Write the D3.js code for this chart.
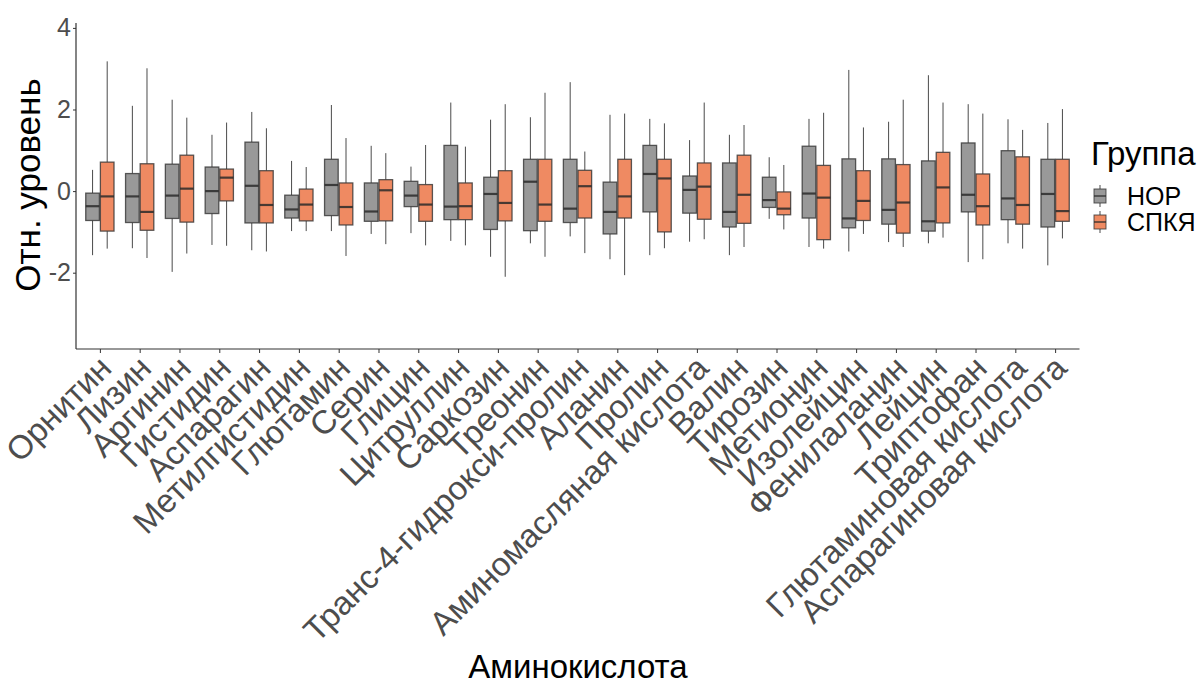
<!DOCTYPE html>
<html>
<head>
<meta charset="utf-8">
<script src="https://cdnjs.cloudflare.com/ajax/libs/d3/7.8.5/d3.min.js"></script>
<style>
  body { margin: 0; background: #fff; }
  svg { font-family: "Liberation Sans", Arial, sans-serif; }
</style>
</head>
<body>
<div id="chart"></div>
<script>
// categories along x
const categories = ['Орнитин', 'Лизин', 'Аргинин', 'Гистидин', 'Аспарагин', 'Метилгистидин',
  'Глютамин', 'Серин', 'Глицин', 'Цитруллин', 'Саркозин', 'Треонин', 'Транс-4-гидрокси-пролин',
  'Аланин', 'Пролин', 'Аминомасляная кислота', 'Валин', 'Тирозин', 'Метионин', 'Изолейцин',
  'Фенилаланин', 'Лейцин', 'Триптофан', 'Глютаминовая кислота', 'Аспарагиновая кислота'];

const groups = ['НОР', 'СПКЯ'];
const groupColors = ['#999999', '#ef8a62'];

// [whisker low, q1, median, q3, whisker high]
const norStats = [
  [-1.57, -0.72, -0.37, -0.05, 0.52],
  [-1.40, -0.77, -0.13, 0.43, 2.09],
  [-1.98, -0.67, -0.11, 0.66, 2.24],
  [-1.32, -0.55, 0.00, 0.59, 1.38],
  [-1.45, -0.78, 0.13, 1.20, 1.94],
  [-0.98, -0.66, -0.45, -0.10, 0.74],
  [-0.98, -0.60, 0.15, 0.78, 2.11],
  [-1.05, -0.74, -0.50, 0.20, 1.11],
  [-1.03, -0.38, -0.11, 0.24, 0.60],
  [-1.22, -0.70, -0.38, 1.12, 2.17],
  [-1.61, -0.94, -0.07, 0.34, 1.75],
  [-1.28, -0.97, 0.23, 0.78, 1.81],
  [-1.11, -0.77, -0.43, 0.78, 2.67],
  [-1.67, -1.05, -0.51, 0.22, 1.87],
  [-1.57, -0.51, 0.42, 1.12, 1.77],
  [-1.24, -0.54, 0.03, 0.37, 1.25],
  [-1.57, -0.88, -0.51, 0.69, 1.38],
  [-0.68, -0.40, -0.22, 0.34, 0.83],
  [-1.37, -0.66, -0.06, 1.10, 1.77],
  [-1.48, -0.90, -0.67, 0.79, 2.97],
  [-1.25, -0.81, -0.46, 0.79, 1.70],
  [-1.28, -0.98, -0.74, 0.74, 2.84],
  [-1.74, -0.51, -0.09, 1.18, 2.13],
  [-1.28, -0.70, -0.18, 0.99, 1.76],
  [-1.82, -0.88, -0.07, 0.78, 1.67]
];

const spkyaStats = [
  [-1.41, -0.98, -0.13, 0.71, 3.18],
  [-1.64, -0.96, -0.51, 0.67, 3.01],
  [-1.53, -0.76, 0.06, 0.88, 1.80],
  [-1.34, -0.24, 0.33, 0.54, 1.68],
  [-1.48, -0.78, -0.34, 0.50, 1.54],
  [-0.98, -0.73, -0.33, 0.05, 0.59],
  [-1.59, -0.83, -0.39, 0.20, 1.30],
  [-1.30, -0.73, 0.02, 0.28, 0.93],
  [-1.33, -0.74, -0.33, 0.16, 1.13],
  [-1.33, -0.70, -0.37, 0.20, 1.09],
  [-2.10, -0.73, -0.29, 0.50, 2.13],
  [-1.61, -0.74, -0.33, 0.78, 2.41],
  [-1.52, -0.66, 0.12, 0.51, 0.97],
  [-2.06, -0.66, -0.13, 0.78, 1.90],
  [-1.40, -1.00, 0.31, 0.78, 1.66],
  [-1.18, -0.69, 0.11, 0.69, 2.17],
  [-1.37, -0.79, -0.09, 0.88, 1.62],
  [-0.94, -0.58, -0.43, -0.02, 0.64],
  [-1.41, -1.19, -0.16, 0.63, 1.92],
  [-1.05, -0.72, -0.24, 0.50, 1.56],
  [-1.37, -1.03, -0.28, 0.65, 2.24],
  [-1.14, -0.78, 0.09, 0.95, 2.17],
  [-1.67, -0.83, -0.37, 0.42, 1.90],
  [-1.41, -0.81, -0.34, 0.84, 1.50],
  [-1.16, -0.74, -0.49, 0.78, 2.01]
];

const yTicks = [-2, 0, 2, 4];

const width = 1204, height = 686;
const margin = { top: 23, right: 125, bottom: 337, left: 76 };

const svg = d3.select('#chart')
  .append('svg')
  .attr('width', width)
  .attr('height', height);

const x = d3.scalePoint()
  .domain(categories)
  .range([margin.left, width - margin.right])
  .padding(0.6);

const y = d3.scaleLinear()
  .domain([-3.87, 4.12])
  .range([height - margin.bottom, margin.top]);

const boxW = x.step() * 0.735;
const dodge = d3.scaleBand().domain(groups).range([-boxW / 2, boxW / 2]);

// build rows for boxes
const rows = [];
categories.forEach(function (c, i) {
  [norStats, spkyaStats].forEach(function (s, g) {
    const v = s[i];
    rows.push({ cat: c, group: groups[g], color: groupColors[g],
      lo: v[0], q1: v[1], med: v[2], q3: v[3], hi: v[4] });
  });
});

const boxes = svg.append('g').selectAll('g.box')
  .data(rows)
  .enter()
  .append('g')
  .attr('class', 'box')
  .attr('transform', function (d) { return 'translate(' + (x(d.cat) + dodge(d.group)) + ',0)'; });

const bw = dodge.bandwidth();

boxes.append('line')
  .attr('x1', bw / 2).attr('x2', bw / 2)
  .attr('y1', function (d) { return y(d.hi); })
  .attr('y2', function (d) { return y(d.q3); })
  .attr('stroke', '#4a4a4a').attr('stroke-width', 1);

boxes.append('line')
  .attr('x1', bw / 2).attr('x2', bw / 2)
  .attr('y1', function (d) { return y(d.q1); })
  .attr('y2', function (d) { return y(d.lo); })
  .attr('stroke', '#4a4a4a').attr('stroke-width', 1);

boxes.append('rect')
  .attr('x', 0.5)
  .attr('width', bw - 1)
  .attr('y', function (d) { return y(d.q3); })
  .attr('height', function (d) { return y(d.q1) - y(d.q3); })
  .attr('fill', function (d) { return d.color; })
  .attr('stroke', '#333')
  .attr('stroke-opacity', 0.8)
  .attr('stroke-width', 1.3);

boxes.append('line')
  .attr('x1', 0.5).attr('x2', bw - 0.5)
  .attr('y1', function (d) { return y(d.med); })
  .attr('y2', function (d) { return y(d.med); })
  .attr('stroke', '#2a2a2a')
  .attr('stroke-opacity', 0.85)
  .attr('stroke-width', 2.2);

// axes
const xAxis = d3.axisBottom(x).tickSize(4).tickSizeOuter(0);
const yAxis = d3.axisLeft(y).tickValues(yTicks).tickSize(3).tickSizeOuter(0)
  .tickFormat(function (d) { return String(d); });

const gx = svg.append('g')
  .attr('transform', 'translate(0,' + (height - margin.bottom) + ')')
  .call(xAxis);
gx.select('.domain').attr('stroke', '#333').attr('stroke-width', 1.2)
  .attr('d', 'M' + margin.left + ',0H' + (width - margin.right + 0.5));
gx.selectAll('.tick line').attr('stroke', '#333');
gx.selectAll('.tick text')
  .attr('fill', '#4d4d4d')
  .attr('font-size', 33)
  .attr('text-anchor', 'end')
  .attr('dy', null)
  .attr('y', 0)
  .attr('transform', 'translate(13,21) rotate(-45)');

const gy = svg.append('g')
  .attr('transform', 'translate(' + margin.left + ',0)')
  .call(yAxis);
gy.select('.domain').attr('stroke', '#333').attr('stroke-width', 1.2)
  .attr('d', 'M0,' + margin.top + 'V' + (height - margin.bottom));
gy.selectAll('.tick line').attr('stroke', '#333');
gy.selectAll('.tick text')
  .attr('fill', '#4d4d4d')
  .attr('font-size', 25)
  .attr('x', -5);

// axis titles
svg.append('text')
  .attr('x', 578)
  .attr('y', 678)
  .attr('text-anchor', 'middle')
  .attr('font-size', 33)
  .attr('fill', '#000')
  .text('Аминокислота');

svg.append('text')
  .attr('transform', 'translate(40,185) rotate(-90)')
  .attr('text-anchor', 'middle')
  .attr('font-size', 35)
  .attr('fill', '#000')
  .text('Отн. уровень');

// legend
const legend = svg.append('g').attr('transform', 'translate(1091,0)');
legend.append('text')
  .attr('x', 0).attr('y', 165)
  .attr('font-size', 33)
  .attr('fill', '#000')
  .text('Группа');

const keys = legend.selectAll('g.key')
  .data(groups)
  .enter()
  .append('g')
  .attr('class', 'key')
  .attr('transform', function (d, i) { return 'translate(3,' + (196 + i * 26) + ')'; });

keys.append('line')
  .attr('x1', 6).attr('x2', 6).attr('y1', -11).attr('y2', 11)
  .attr('stroke', '#4a4a4a');
keys.append('rect')
  .attr('x', 0).attr('y', -7).attr('width', 12).attr('height', 14)
  .attr('fill', function (d, i) { return groupColors[i]; })
  .attr('stroke', '#333').attr('stroke-opacity', 0.8);
keys.append('line')
  .attr('x1', 0).attr('x2', 12).attr('y1', 0).attr('y2', 0)
  .attr('stroke', '#2a2a2a').attr('stroke-opacity', 0.85).attr('stroke-width', 1.5);
keys.append('text')
  .attr('x', 33).attr('y', 0)
  .attr('dy', '0.36em')
  .attr('font-size', 25)
  .attr('fill', '#000')
  .text(function (d) { return d; });
</script>
</body>
</html>
